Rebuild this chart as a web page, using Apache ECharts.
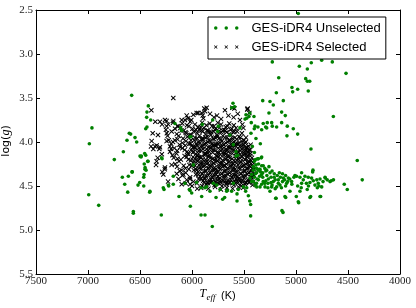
<!DOCTYPE html>
<html><head><meta charset="utf-8">
<script src="https://cdn.jsdelivr.net/npm/echarts@6/dist/echarts.min.js"></script>
<style>html,body{margin:0;padding:0;background:#fff}#c{width:416px;height:308px}</style>
</head><body><div id="c"></div>
<script>
const seriesNames = ['GES-iDR4 Unselected', 'GES-iDR4 Selected'];
const teffRange = [4000, 7500];
const loggRange = [2.5, 5.5];

// GES-iDR4 Unselected: [Teff, log g]
const unselected = [
[4978,2.54],[4519,3.22],[4968,3.14],[4891,3.17],[4853,3.10],[4753,3.07],[4651,3.09],[5228,3.09],[5166,3.27],[4907,3.28],[4891,3.31],[4868,3.31],
[5039,3.38],[4984,3.40],[4882,3.42],[5032,3.43],[5189,3.44],[5320,3.53],[5250,3.54],[5122,3.53],[5218,3.58],[4641,3.71],[5138,3.66],[5103,3.70],[5260,3.67],[5138,3.78],[5084,3.82],[5026,3.85],[4984,3.91],[5087,3.93],[4856,4.08],
[5385,3.96],[5343,4.02],[5433,3.90],[5363,4.19],[5330,4.17],[5330,4.27],[5276,3.78],[5315,3.79],[5234,3.78],[5228,3.82],[5186,3.83],[5292,3.83],[5366,3.83],[5430,3.78],[5401,3.85],[5330,3.86],[5481,3.69],[5452,3.71],[5443,3.67],[5606,3.56],[5590,3.60],[5490,3.74],[5474,3.73],[5394,3.82],[5619,3.61],[5282,3.84],[5404,3.71],[5539,3.84],[5603,4.03],
[6580,3.47],[6962,3.84],[6987,4.02],[6420,3.59],[6433,3.66],[6436,3.72],[6397,3.75],[6445,3.85],[6433,3.83],[6603,3.90],[6590,3.91],[6625,3.98],[6548,3.95],[6532,4.00],[6660,4.11],[6455,4.13],[6747,4.20],[6670,4.40],[6647,4.48],[6612,4.39],[6574,4.34],[6618,4.57],[6993,4.60],[6897,4.72],[6564,4.79],[6564,4.81],[6519,4.49],[6503,4.46],[6464,4.50],[6464,4.40],[6461,4.37],[6452,4.31],[6451,4.29],[6459,4.25],[6423,4.22],[6490,4.17],[6445,4.15],[6407,4.57],[6295,4.83],[6269,4.54],[6224,4.50],[6180,4.48],[6125,4.62],[6016,4.73],[6026,4.54],[6003,4.58],[5907,4.62],[5913,4.83],[5875,4.83],[5913,4.52],[6288,4.19],[6487,4.16],[6426,4.22],[6577,4.34],[6442,4.32],[6500,4.16],[6404,4.56],[6276,4.52],
[6164,3.79],[6099,3.87],[6019,3.94],[5987,4.26],[6292,4.18],[6180,4.39],[6228,4.49],[6019,4.55],[5955,4.46],[5875,4.52],[5827,4.56],[5763,4.49],[5747,3.82],[5801,3.75],[6109,3.84],[6010,3.94],[5901,3.80],[5635,3.92],[5577,4.11],[5753,3.88],[6068,4.47],[5731,4.54],[5619,4.56],[5474,4.52],[5667,4.56],[5795,4.47],[5859,4.51],[5603,4.47],[5555,4.54],[5442,4.41],[5378,4.51],[5363,4.32],
[5567,4.67],[5567,4.59],[5705,4.65],[5686,4.63],[5769,4.63],[5660,4.55],[5436,4.71],[5445,4.67],[5436,4.84],[5805,4.96],[5334,4.18],[5365,4.19],[5561,4.15],[5195,4.64],[5099,4.63],[4997,4.62],[4859,4.62],[4763,4.62],[4974,4.69],[5135,4.78],[5125,4.80],[5484,4.56],[5458,4.61],[5506,4.51],
[4914,4.39],[4837,4.32],[4718,4.41],[4661,4.44],[4507,4.54],[4536,4.48],[4363,4.43],[4411,4.21],
[5577,4.16],[5369,4.19],[5385,4.26],[5315,4.27],[5346,4.31],[5282,4.32],[5250,4.35],[5209,4.36],[5378,4.35],[5330,4.37],[5362,4.43],[5315,4.45],[5266,4.42],[5218,4.45],[5170,4.43],[5122,4.41],[5154,4.49],[5186,4.51],[5234,4.51],[5298,4.51],[5346,4.51],[5394,4.49],[5426,4.45],[5426,4.37],[5410,4.32],[5074,4.41],[5042,4.45],[5090,4.47],[4994,4.39],[4962,4.40],[4984,4.50],[4946,4.47],[4866,4.46],[4834,4.44],[4818,4.49],[4786,4.47],[4840,4.34],[4769,4.42],[4721,4.40],[4673,4.45],[4753,4.51],[4795,4.52],[4892,4.54],[4962,4.56],[5058,4.56],[5106,4.62],[5250,4.56],[5192,4.64],[4978,4.68],[4866,4.63],[4769,4.62],[5010,4.38],[4946,4.35],[4882,4.40],
[5400,4.22],[5380,4.30],[5360,4.25],[5340,4.34],[5300,4.30],[5280,4.38],[5260,4.28],[5240,4.40],[5400,4.40],[5370,4.42],[5350,4.39],[5320,4.40],[5290,4.44],[5270,4.47],[5240,4.46],[5200,4.43],[5180,4.38],[5150,4.40],[5130,4.45],[5110,4.43],[5100,4.38],[5380,4.47],[5330,4.48],[5300,4.47],[5270,4.52],[5230,4.49],[5200,4.53],[5170,4.47],[5140,4.52],[5100,4.50],[5060,4.42],[5040,4.48],[5020,4.40],[5410,4.45],[5390,4.36],[5355,4.31],[5320,4.35],[5290,4.33],[5230,4.33],[5210,4.40],[5160,4.35],[5130,4.36],[5080,4.45],[4930,4.43],[4900,4.47],[4850,4.41],[4800,4.43],[4740,4.45],[4700,4.43],[4640,4.43],[4780,4.50],[4880,4.50],[4950,4.52],[5420,4.05],[5400,4.12],[5390,4.20],[5410,4.28]
];

// GES-iDR4 Selected: [Teff, log g]
const selected = [
[6228,3.80],[6182,3.78],[6131,3.82],[6094,3.79],[6049,3.81],[6017,3.77],[5972,3.80],[5941,3.83],[5903,3.78],[5861,3.81],[5829,3.79],[5788,3.82],[5752,3.78],[5721,3.80],[5676,3.83],[5642,3.79],[5598,3.81],
[6251,3.86],[6163,3.85],[6112,3.84],[6079,3.87],[6031,3.82],[5996,3.85],[5962,3.86],[5917,3.83],[5884,3.84],[5846,3.87],[5808,3.82],[5770,3.85],[5737,3.84],[5693,3.86],[5659,3.82],[5618,3.85],[5576,3.84],
[6242,3.90],[6196,3.88],[6147,3.91],[6101,3.87],[6063,3.89],[6022,3.92],[5984,3.88],[5949,3.90],[5908,3.87],[5869,3.91],[5834,3.89],[5791,3.88],[5759,3.92],[5718,3.89],[5679,3.87],[5641,3.91],[5603,3.89],[5566,3.88],
[6235,3.93],[6128,3.93],[6086,3.96],[6044,3.94],[6006,3.92],[5971,3.95],[5927,3.93],[5893,3.96],[5852,3.94],[5818,3.92],[5776,3.95],[5741,3.96],[5704,3.93],[5663,3.95],[5624,3.92],[5587,3.95],[5548,3.94],
[6224,3.98],[6183,4.00],[6139,3.97],[6092,4.01],[6058,3.99],[6013,4.02],[5979,3.98],[5938,4.00],[5902,3.97],[5866,4.01],[5823,3.99],[5787,3.97],[5749,4.02],[5712,3.99],[5674,4.01],[5634,3.98],[5597,4.00],[5559,4.02],[5523,3.99],
[6212,4.05],[6114,4.06],[6066,4.04],[6028,4.02],[5991,4.06],[5953,4.03],[5914,4.05],[5879,4.02],[5843,4.06],[5802,4.04],[5768,4.02],[5727,4.05],[5692,4.03],[5651,4.06],[5617,4.04],[5578,4.02],[5541,4.05],[5503,4.03],[5474,4.06],
[6201,4.08],[6143,4.10],[6093,4.07],[6047,4.11],[6008,4.09],[5969,4.07],[5933,4.10],[5896,4.08],[5857,4.11],[5821,4.07],[5783,4.09],[5746,4.12],[5708,4.08],[5671,4.10],[5633,4.07],[5596,4.09],[5557,4.11],[5521,4.08],[5487,4.10],[5452,4.09],
[6188,4.15],[6071,4.16],[6034,4.14],[5992,4.12],[5951,4.15],[5918,4.17],[5877,4.13],[5838,4.15],[5801,4.12],[5762,4.16],[5726,4.14],[5688,4.12],[5652,4.15],[5613,4.13],[5577,4.16],[5538,4.14],[5502,4.12],[5467,4.15],[5438,4.13],
[6176,4.18],[6107,4.20],[6052,4.17],[6011,4.21],[5972,4.19],[5933,4.17],[5897,4.20],[5858,4.22],[5822,4.18],[5784,4.20],[5747,4.17],[5707,4.21],[5673,4.19],[5633,4.18],[5598,4.21],[5559,4.19],[5522,4.17],[5488,4.20],[5452,4.22],[5424,4.18],
[6161,4.25],[6026,4.26],[5986,4.24],[5947,4.22],[5908,4.25],[5869,4.23],[5833,4.26],[5794,4.24],[5758,4.22],[5719,4.25],[5683,4.27],[5646,4.23],[5607,4.25],[5571,4.24],[5533,4.22],[5497,4.26],[5461,4.24],[5418,4.23],
[6143,4.28],[6063,4.30],[6004,4.27],[5962,4.31],[5923,4.29],[5886,4.27],[5847,4.30],[5811,4.28],[5772,4.31],[5736,4.29],[5697,4.27],[5661,4.30],[5623,4.28],[5586,4.31],[5548,4.29],[5512,4.27],[5476,4.30],[5441,4.28],[5408,4.31],
[6118,4.33],[5983,4.32],[5941,4.34],[5902,4.36],[5866,4.33],[5827,4.35],[5789,4.32],[5751,4.34],[5714,4.36],[5677,4.33],[5639,4.35],[5602,4.32],[5564,4.34],[5529,4.36],[5491,4.33],[5455,4.35],[5416,4.34],
[6092,4.38],[6018,4.40],[5963,4.37],[5921,4.39],[5881,4.41],[5843,4.38],[5806,4.40],[5768,4.37],[5731,4.41],[5692,4.39],[5655,4.37],[5618,4.40],[5581,4.38],[5543,4.41],[5507,4.39],[5468,4.37],[5431,4.40],[5402,4.38],
[6051,4.43],[5987,4.45],[5937,4.42],[5892,4.44],[5853,4.46],[5816,4.43],[5777,4.45],[5741,4.42],[5702,4.44],[5666,4.46],[5628,4.43],[5592,4.45],[5553,4.42],[5517,4.44],[5481,4.46],[5446,4.43],[5409,4.45],
[6018,4.48],[5953,4.47],[5904,4.50],[5861,4.48],[5823,4.46],[5784,4.49],[5747,4.47],[5711,4.50],[5672,4.48],[5636,4.46],[5598,4.49],[5562,4.47],[5526,4.50],[5489,4.48],[5452,4.46],[5418,4.49],
[5912,4.52],[5842,4.53],[5778,4.51],[5722,4.54],[5664,4.52],[5609,4.53],[5553,4.51],[5508,4.52],
[5932,3.86],[5898,3.88],[5856,3.87],[5815,3.89],[5780,3.86],[5743,3.88],[5705,3.87],[5668,3.89],[5630,3.86],[5593,3.88],
[5950,3.96],[5910,3.97],[5872,3.95],[5835,3.98],[5797,3.96],[5759,3.94],[5722,3.97],[5684,3.95],[5646,3.98],[5609,3.96],[5569,3.97],[5533,3.95],
[5960,4.02],[5921,4.01],[5884,4.03],[5846,4.00],[5808,4.02],[5771,4.04],[5733,4.01],[5696,4.03],[5658,4.00],[5621,4.02],[5583,4.04],[5545,4.01],[5508,4.03],[5482,4.00],
[5972,4.06],[5934,4.07],[5897,4.05],[5859,4.08],[5822,4.06],[5784,4.04],[5747,4.07],[5709,4.05],[5672,4.08],[5634,4.06],[5597,4.04],[5559,4.07],[5522,4.05],[5486,4.07],[5458,4.05],
[5985,4.11],[5947,4.12],[5910,4.10],[5872,4.13],[5835,4.11],[5797,4.09],[5760,4.12],[5722,4.10],[5685,4.13],[5647,4.11],[5610,4.09],[5572,4.12],[5535,4.10],[5497,4.13],[5463,4.11],[5440,4.09],
[5990,4.17],[5952,4.16],[5915,4.18],[5877,4.15],[5840,4.17],[5802,4.19],[5765,4.16],[5727,4.18],[5690,4.15],[5652,4.17],[5615,4.19],[5577,4.16],[5540,4.18],[5502,4.15],[5470,4.17],[5440,4.16],
[5980,4.22],[5942,4.21],[5905,4.23],[5867,4.20],[5830,4.22],[5792,4.24],[5755,4.21],[5717,4.23],[5680,4.20],[5642,4.22],[5605,4.24],[5567,4.21],[5530,4.23],[5492,4.20],[5458,4.22],[5430,4.21],
[5970,4.27],[5932,4.26],[5895,4.28],[5857,4.25],[5820,4.27],[5782,4.29],[5745,4.26],[5707,4.28],[5670,4.25],[5632,4.27],[5595,4.29],[5557,4.26],[5520,4.28],[5482,4.25],[5448,4.27],[5420,4.26],
[5955,4.32],[5917,4.31],[5880,4.33],[5842,4.30],[5805,4.32],[5767,4.34],[5730,4.31],[5692,4.33],[5655,4.30],[5617,4.32],[5580,4.34],[5542,4.31],[5505,4.33],[5467,4.30],[5433,4.32],[5410,4.31],
[5940,4.37],[5902,4.36],[5865,4.38],[5827,4.35],[5790,4.37],[5752,4.39],[5715,4.36],[5677,4.38],[5640,4.35],[5602,4.37],[5565,4.39],[5527,4.36],[5490,4.38],[5452,4.35],[5418,4.37],
[5915,4.42],[5877,4.41],[5840,4.43],[5802,4.40],[5765,4.42],[5727,4.44],[5690,4.41],[5652,4.43],[5615,4.40],[5577,4.42],[5540,4.44],[5502,4.41],[5465,4.43],[5428,4.40],
[5885,4.46],[5845,4.47],[5805,4.45],[5765,4.47],[5725,4.46],[5685,4.45],[5645,4.47],[5605,4.46],[5565,4.45],[5525,4.47],[5485,4.46],[5440,4.45],
[6165,3.98],[6120,4.03],[6070,4.09],[6150,4.13],[6035,4.20],[6125,4.22],[6080,4.27],[6030,4.31],[6100,4.32],[6060,4.35],[6020,4.42],[6200,4.02],[6055,3.90],[6010,3.98],[6170,4.07],[6000,4.04],[6040,4.13],[6140,4.19],
[6180,3.50],[6391,3.64],[5940,3.67],[5907,3.67],[5859,3.61],[5827,3.68],[5891,3.73],[6353,3.77],[6308,3.77],[6244,3.76],[6180,3.76],[6036,3.73],[5987,3.69],[6068,3.75],[6260,3.75],[5875,3.65],[5789,3.72],[5683,3.64],[5612,3.61],[5592,3.62],[5465,3.62],[5449,3.67],[5539,3.75],[5516,3.80],[5490,4.01],[5436,4.03],[5474,4.07],[5468,3.63],[5481,3.95],[5506,3.84],
[6388,3.99],[6356,4.05],[6308,4.06],[6372,4.08],[6340,4.22],[6346,4.26],[6276,4.37],[6260,4.29],[6196,4.26],[6147,4.36],[6099,4.48],[6084,4.37],[6212,4.11],[6244,3.99],[6330,4.18],[6286,4.34],[6262,4.31],[6288,3.80],[6378,3.90],[6327,3.92],[6340,4.04],[6394,4.05],[6314,4.08],
[6051,3.70],[6007,3.75],[5955,3.67],[5897,3.70],[5882,3.62],[6099,3.75],[6141,3.82],[6244,3.82],[5760,3.70],[5720,3.74],[5650,3.70],[5600,3.72],[5560,3.68],[6130,4.42],[6060,4.47],[6000,4.50],[5950,4.53],[5520,3.90],[5500,3.98],[5460,4.12],[6230,4.45],[6290,4.14]
];

// marker shapes (style only)
const crossUnit = (ox) => `M${ox},1.4L${ox+1.4},0L${ox+5},3.6L${ox+8.6},0L${ox+10},1.4L${ox+6.4},5L${ox+10},8.6L${ox+8.6},10L${ox+5},6.4L${ox+1.4},10L${ox},8.6L${ox+3.6},5Z`;
const crossSymbol = 'path://' + crossUnit(0);
const crossLegend = 'path://' + crossUnit(0) + crossUnit(30) + crossUnit(60);
const dotUnit = (cx) => `M${cx-5},5a5,5 0 1,0 10,0a5,5 0 1,0 -10,0Z`;
const dotLegend = 'path://' + dotUnit(5) + dotUnit(35) + dotUnit(65);

const GREEN = '#008000';
const serif = 'Liberation Serif';
const axisCommon = {
  type: 'value', inverse: true,
  axisLine: { show: true, onZero: false, lineStyle: { color: '#000', width: 1 } },
  axisTick: { show: true, inside: true, length: 4, lineStyle: { color: '#000', width: 1 } },
  splitLine: { show: false }
};

const chart = echarts.init(document.getElementById('c'), null, { renderer: 'canvas' });
chart.setOption({
  animation: false,
  backgroundColor: '#fff',
  grid: { left: 36, right: 16, top: 10, bottom: 34, containLabel: false },
  xAxis: [
    Object.assign({}, axisCommon, {
      position: 'bottom', min: teffRange[0], max: teffRange[1], interval: 500,
      axisLabel: { show: true, margin: 2, fontFamily: serif, fontSize: 11, color: '#222', hideOverlap: false,
        formatter: v => String(v), showMinLabel: true, showMaxLabel: true }
    }),
    Object.assign({}, axisCommon, {
      position: 'top', min: teffRange[0], max: teffRange[1], interval: 500,
      axisLabel: { show: false }
    })
  ],
  yAxis: [
    Object.assign({}, axisCommon, {
      position: 'left', min: loggRange[0], max: loggRange[1], interval: 0.5,
      axisLabel: { show: true, margin: 3, fontFamily: serif, fontSize: 11, color: '#222',
        formatter: v => v.toFixed(1), showMinLabel: true, showMaxLabel: true }
    }),
    Object.assign({}, axisCommon, {
      position: 'right', min: loggRange[0], max: loggRange[1], interval: 0.5,
      axisLabel: { show: false }
    })
  ],
  legend: {
    data: [
      { name: seriesNames[0], icon: dotLegend, itemStyle: { color: GREEN } },
      { name: seriesNames[1], icon: crossLegend, itemStyle: { color: '#000' } }
    ],
    orient: 'vertical', left: 208, top: 17,
    padding: [4, 5, 5, 6],
    itemWidth: 24.5, itemHeight: 3.5, itemGap: 5,
    selectedMode: false,
    backgroundColor: '#fff', borderColor: '#000', borderWidth: 1, borderRadius: 0,
    textStyle: { fontFamily: 'Liberation Sans', fontSize: 13, color: '#000', lineHeight: 14, padding: [0, 0, 0, 8] }
  },
  graphic: [
    { type: 'text', x: 6, y: 141, rotation: Math.PI / 2, z: 100,
      style: { text: '{a|log(}{b|g}{a|)}', align: 'center', verticalAlign: 'middle',
        rich: { a: { fontFamily: 'DejaVu Sans', fontSize: 11, fill: '#000' },
                b: { fontFamily: serif, fontStyle: 'italic', fontSize: 12, fill: '#000' } } } },
    { type: 'text', x: 199.5, y: 300, z: 100,
      style: { text: 'T', fontFamily: serif, fontStyle: 'italic', fontSize: 12, fill: '#000', align: 'left', verticalAlign: 'bottom' } },
    { type: 'text', x: 206.5, y: 302, z: 100,
      style: { text: 'eff', fontFamily: serif, fontStyle: 'italic', fontSize: 9, fill: '#000', align: 'left', verticalAlign: 'bottom' } },
    { type: 'text', x: 221, y: 301, z: 100,
      style: { text: '(K)', fontFamily: 'Liberation Sans', fontSize: 11, fill: '#000', align: 'left', verticalAlign: 'bottom' } }
  ],
  series: [
    { name: seriesNames[1], type: 'scatter', xAxisIndex: 0, yAxisIndex: 0, z: 2,
      data: selected, symbol: crossSymbol, symbolSize: 5, silent: true,
      itemStyle: { color: '#000', opacity: 1 } },
    { name: seriesNames[0], type: 'scatter', xAxisIndex: 0, yAxisIndex: 0, z: 3,
      data: unselected, symbol: 'circle', symbolSize: 3.6, silent: true,
      itemStyle: { color: GREEN, opacity: 1 } }
  ]
});
</script>
</body></html>
